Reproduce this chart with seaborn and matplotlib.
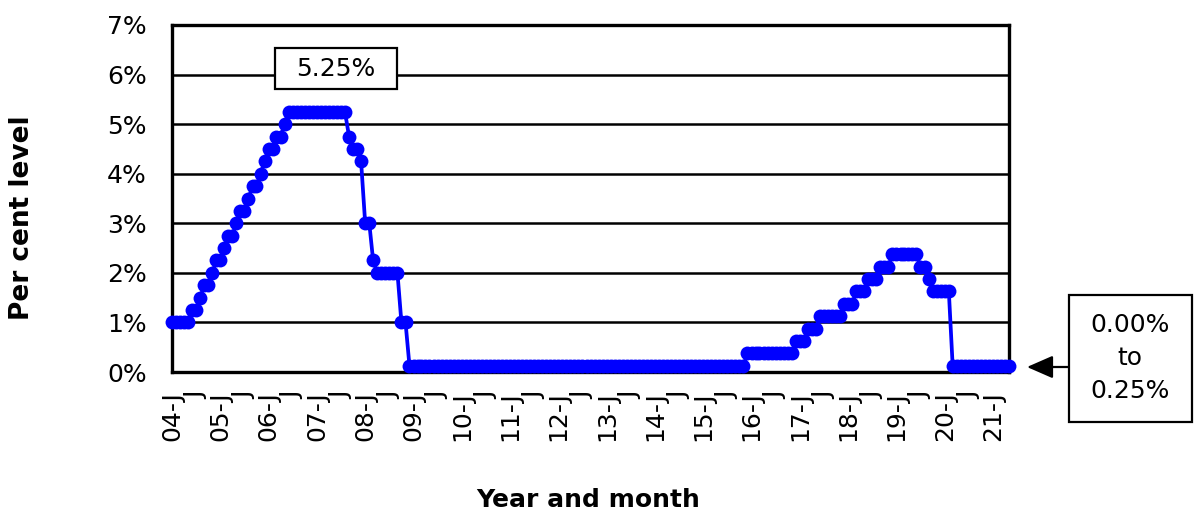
import pandas as pd
import matplotlib.pyplot as plt
import seaborn as sns
from matplotlib.patches import Rectangle

# Monthly policy rate (% , end of month; midpoint of target range from Dec 2008)
rates_2004 = [1.00, 1.00, 1.00, 1.00, 1.00, 1.25, 1.25, 1.50, 1.75, 1.75, 2.00, 2.25]
rates_2005 = [2.25, 2.50, 2.75, 2.75, 3.00, 3.25, 3.25, 3.50, 3.75, 3.75, 4.00, 4.25]
rates_2006 = [4.50, 4.50, 4.75, 4.75, 5.00, 5.25, 5.25, 5.25, 5.25, 5.25, 5.25, 5.25]
rates_2007 = [5.25, 5.25, 5.25, 5.25, 5.25, 5.25, 5.25, 5.25, 4.75, 4.50, 4.50, 4.25]
rates_2008 = [3.00, 3.00, 2.25, 2.00, 2.00, 2.00, 2.00, 2.00, 2.00, 1.00, 1.00, 0.125]
rates_2009 = [0.125, 0.125, 0.125, 0.125, 0.125, 0.125, 0.125, 0.125, 0.125, 0.125, 0.125, 0.125]
rates_2010 = [0.125, 0.125, 0.125, 0.125, 0.125, 0.125, 0.125, 0.125, 0.125, 0.125, 0.125, 0.125]
rates_2011 = [0.125, 0.125, 0.125, 0.125, 0.125, 0.125, 0.125, 0.125, 0.125, 0.125, 0.125, 0.125]
rates_2012 = [0.125, 0.125, 0.125, 0.125, 0.125, 0.125, 0.125, 0.125, 0.125, 0.125, 0.125, 0.125]
rates_2013 = [0.125, 0.125, 0.125, 0.125, 0.125, 0.125, 0.125, 0.125, 0.125, 0.125, 0.125, 0.125]
rates_2014 = [0.125, 0.125, 0.125, 0.125, 0.125, 0.125, 0.125, 0.125, 0.125, 0.125, 0.125, 0.125]
rates_2015 = [0.125, 0.125, 0.125, 0.125, 0.125, 0.125, 0.125, 0.125, 0.125, 0.125, 0.125, 0.375]
rates_2016 = [0.375, 0.375, 0.375, 0.375, 0.375, 0.375, 0.375, 0.375, 0.375, 0.375, 0.375, 0.625]
rates_2017 = [0.625, 0.625, 0.875, 0.875, 0.875, 1.125, 1.125, 1.125, 1.125, 1.125, 1.125, 1.375]
rates_2018 = [1.375, 1.375, 1.625, 1.625, 1.625, 1.875, 1.875, 1.875, 2.125, 2.125, 2.125, 2.375]
rates_2019 = [2.375, 2.375, 2.375, 2.375, 2.375, 2.375, 2.125, 2.125, 1.875, 1.625, 1.625, 1.625]
rates_2020 = [1.625, 1.625, 0.125, 0.125, 0.125, 0.125, 0.125, 0.125, 0.125, 0.125, 0.125, 0.125]
rates_2021 = [0.125, 0.125, 0.125, 0.125, 0.125]

monthly_rates = (rates_2004 + rates_2005 + rates_2006 + rates_2007 + rates_2008
                 + rates_2009 + rates_2010 + rates_2011 + rates_2012 + rates_2013
                 + rates_2014 + rates_2015 + rates_2016 + rates_2017 + rates_2018
                 + rates_2019 + rates_2020 + rates_2021)

y_ticks = [0, 1, 2, 3, 4, 5, 6, 7]
peak_label = '5.25%'
floor_label = '0.00%\nto\n0.25%'

months = pd.date_range('2004-01-01', periods=len(monthly_rates), freq='MS')
df = pd.DataFrame({'Month': months, 'Rate': monthly_rates})

sns.set_style('white')
plt.rcParams['font.family'] = ['DejaVu Sans']
plt.rcParams['text.color'] = 'black'
plt.rcParams['xtick.color'] = 'black'
plt.rcParams['ytick.color'] = 'black'

W, H = 1200, 520
fig = plt.figure(figsize=(12, 5.2), dpi=100)
ax = fig.add_axes([172 / W, 1 - 372 / H, 837 / W, 347 / H])

sns.lineplot(data=df, x='Month', y='Rate', marker='o', color='#0000FF',
             linewidth=2.7, markersize=10, markeredgewidth=0,
             clip_on=False, zorder=4, ax=ax)

ax.set_xlim(months[0], months[-1])
ax.set_ylim(0, 7)
ax.set_yticks(y_ticks)
ax.set_yticklabels([f'{v}%' for v in y_ticks], fontsize=18, color='black')

tick_dates = pd.date_range('2004-01-01', '2021-01-01', freq='6MS')
tick_labels = [f'{d:%y}-J' if d.month == 1 else 'J' for d in tick_dates]
ax.set_xticks(tick_dates)
ax.set_xticklabels(tick_labels, rotation=90, fontsize=18, color='black')
ax.tick_params(axis='both', length=0)
ax.tick_params(axis='x', pad=14)
ax.tick_params(axis='y', pad=18)

ax.yaxis.grid(True, color='black', linewidth=1.8)
ax.xaxis.grid(False)
ax.set_axisbelow(True)
for side in ['left', 'right', 'top', 'bottom']:
    ax.spines[side].set_visible(True)
    ax.spines[side].set_color('black')
    ax.spines[side].set_linewidth(2.4)
ax.set_xlabel('')
ax.set_ylabel('')

# peak call-out box
fig.add_artist(Rectangle((275 / W, 1 - 89 / H), 122 / W, 41 / H, transform=fig.transFigure,
                         facecolor='white', edgecolor='black', linewidth=1.6, zorder=5))
fig.text(336 / W, 1 - 69 / H, peak_label, ha='center', va='center', fontsize=18,
         color='black', zorder=6)

# current range box with arrow
fig.add_artist(Rectangle((1069 / W, 1 - 422 / H), 123 / W, 127 / H, transform=fig.transFigure,
                         facecolor='white', edgecolor='black', linewidth=1.6, zorder=5))
fig.text(1130 / W, 1 - 358 / H, floor_label, ha='center', va='center', fontsize=18,
         multialignment='center', linespacing=1.45, color='black', zorder=6)
ax.annotate('', xy=(1027 / W, 1 - 367 / H), xycoords='figure fraction',
            xytext=(1069 / W, 1 - 367 / H), textcoords='figure fraction',
            arrowprops=dict(arrowstyle='-|>,head_length=0.8,head_width=0.35',
                            mutation_scale=20, color='black', lw=1.6,
                            shrinkA=0, shrinkB=0))

fig.text(588 / W, 1 - 500 / H, 'Year and month', ha='center', va='center',
         fontsize=18, fontweight='bold', color='black')
fig.text(22 / W, 1 - 218 / H, 'Per cent level', ha='center', va='center',
         rotation=90, fontsize=19, fontweight='bold', color='black')

fig.savefig('out.png', dpi=100)
